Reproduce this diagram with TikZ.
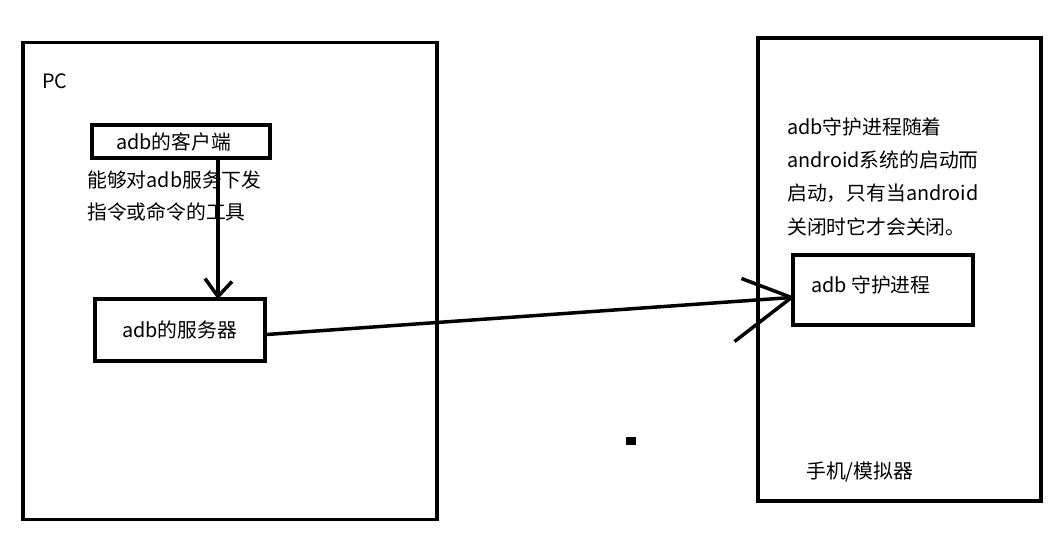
\documentclass[tikz,border=0pt]{standalone}
\usepackage{fontspec}
\setmainfont{Noto Sans CJK SC}
\usetikzlibrary{calc}
\begin{document}
\begin{tikzpicture}[x=1pt,y=-1pt,
  frame/.style={draw, line width=3.5pt, inner sep=0pt},
  box/.style={draw, line width=4pt, inner sep=0pt, font=\fontsize{19.8}{33}\selectfont},
  txt/.style={inner sep=0pt, anchor=west, font=\fontsize{19.8}{33}\selectfont},
  conn/.style={line width=3.5pt}]
\useasboundingbox (0,0) rectangle (1056,547);
% frames
\node[frame, minimum width=414pt, minimum height=477pt] (pc) at (230,281) {};
\node[frame, minimum width=283pt, minimum height=463pt] (ph) at (899.5,269.5) {};
% boxes
\node[box, minimum width=178pt, minimum height=33pt] (c) at (180.5,141.5) {};
\node[txt] (cl) at (116,142) {adb的客户端};
\node[box, minimum width=170pt, minimum height=62pt] (s) at (179.5,329.5) {adb的服务器};
\node[box, minimum width=180pt, minimum height=70pt] (d) at (882.5,289.5) {};
\node[txt] (dl) at (811,285) {adb 守护进程};
% texts
\node[txt] (pct) at (42,81) {PC};
\node[txt] (cd1) at (87,180) {能够对adb服务下发};
\node[txt] (cd2) at (87,212) {指令或命令的工具};
\node[txt] (dd1) at (787,127) {adb守护进程随着};
\node[txt] (dd2) at (787,160) {android系统的启动而};
\node[txt] (dd3) at (787,193) {启动，只有当android};
\node[txt] (dd4) at (787,227) {关闭时它才会关闭。};
\node[txt] (pl) at (806,472) {手机/模拟器};
% connectors
\coordinate (ax) at (218,0);
\coordinate (t1) at (s.north -| ax);
\draw[conn] (c.south -| ax) -- (t1);
\draw[conn] ($(t1)+(-13,-18)$) -- (t1) -- ($(t1)+(14,-15)$);
\coordinate (t2) at ($(d.west)+(1,8)$);
\draw[conn] ($(s.east)+(0,5)$) -- (t2);
\draw[conn] ($(t2)+(-50,-19)$) -- (t2) -- ($(t2)+(-57,44)$);
% dot
\fill (626,437) rectangle (636,445);
\end{tikzpicture}
\end{document}
